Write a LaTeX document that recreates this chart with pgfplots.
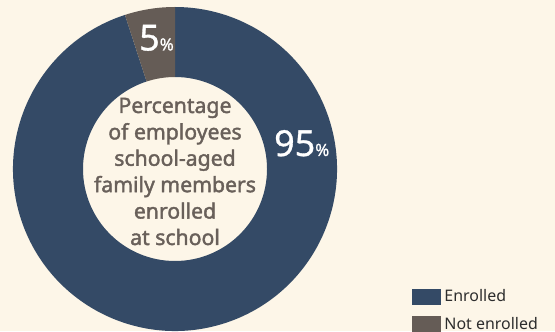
\documentclass[border=0pt]{standalone}
\usepackage{pgfplots}
\pgfplotsset{compat=1.18}
\usepackage{pgfplotstable}
\usepackage{fontspec}
\setmainfont{Noto Sans}[AutoFakeBold=1.8]
\newfontfamily\numfont{Noto Sans}[FakeBold=0.9]
\definecolor{bg}{RGB}{253,246,232}
\definecolor{enr}{RGB}{52,74,102}
\definecolor{notenr}{RGB}{101,92,86}
\definecolor{ctext}{RGB}{105,96,90}
\definecolor{ltext}{RGB}{45,45,45}

% donut slices: centre (x,y) in px, start and value in percent
\pgfplotstableread{
x y start value
175 162 5 95
}\enrolled
\pgfplotstableread{
x y start value
175 162 0 5
}\notenrolled

\def\rout{162}
\def\rin{92}
\pgfdeclareplotmark{sector}{%
  \pgfmathsetmacro\sa{90+3.6*\sstart}%
  \pgfmathsetmacro\ea{90+3.6*(\sstart+\sval)}%
  \fill[slicefill] (\sa:\rin bp) -- (\sa:\rout bp) arc[start angle=\sa, end angle=\ea, radius=\rout bp]
     -- (\ea:\rin bp) arc[start angle=\ea, end angle=\sa, radius=\rin bp] -- cycle;
}

\begin{document}
\begin{tikzpicture}[x=1bp,y=1bp]
\fill[bg] (0,0) rectangle (555,331);
\begin{axis}[
  at={(0,0)}, anchor=south west,
  scale only axis, width=555bp, height=331bp,
  xmin=0, xmax=555, ymin=0, ymax=331,
  hide axis, clip=false,
  set layers,
  legend style={at={(axis cs:412,304.5-262)}, anchor=north west, draw=none, fill=none,
    font=\fontsize{16}{19}\selectfont, text=ltext, inner sep=0pt, row sep=12bp,
    nodes={inner sep=1bp}},
  legend cell align=left,
]
\addplot[forget plot, only marks, mark=sector, /tikz/slicefill/.style={fill=enr, draw=none},
  visualization depends on={\thisrow{start}\as\sstart},
  visualization depends on={\thisrow{value}\as\sval}] table[x=x,y=y] {\enrolled};
\addplot[forget plot, only marks, mark=sector, /tikz/slicefill/.style={fill=notenr, draw=none},
  visualization depends on={\thisrow{start}\as\sstart},
  visualization depends on={\thisrow{value}\as\sval}] table[x=x,y=y] {\notenrolled};

\addlegendimage{legend image code/.code={\fill[enr] (0bp,-7.5bp) rectangle (28bp,7.5bp); \path[draw=none,fill=none] (28bp,0) rectangle (31bp,0.1bp);}}
\addlegendentry{Enrolled}
\addlegendimage{legend image code/.code={\fill[notenr] (0bp,-7.5bp) rectangle (28bp,7.5bp); \path[draw=none,fill=none] (28bp,0) rectangle (31bp,0.1bp);}}
\addlegendentry{Not enrolled}

\begin{pgfonlayer}{axis foreground}
\node[align=center, text=ctext, font=\bfseries\fontsize{21.3}{26.5}\selectfont, inner sep=0pt]
  at (axis cs:175,159.5) {Percentage\\of employees\\school-aged\\family members\\enrolled\\at school};
\node[anchor=base west, inner sep=0pt, text=white] at (axis cs:274,175)
  {\numfont\fontsize{36}{36}\selectfont 95\fontsize{17}{17}\selectfont\%};
\node[anchor=base west, inner sep=0pt, text=white] at (axis cs:139,280.5)
  {\numfont\fontsize{36}{36}\selectfont 5\fontsize{17}{17}\selectfont\%};
\end{pgfonlayer}
\end{axis}
\pgfresetboundingbox
\path (0,0) rectangle (555,331);
\end{tikzpicture}
\end{document}
